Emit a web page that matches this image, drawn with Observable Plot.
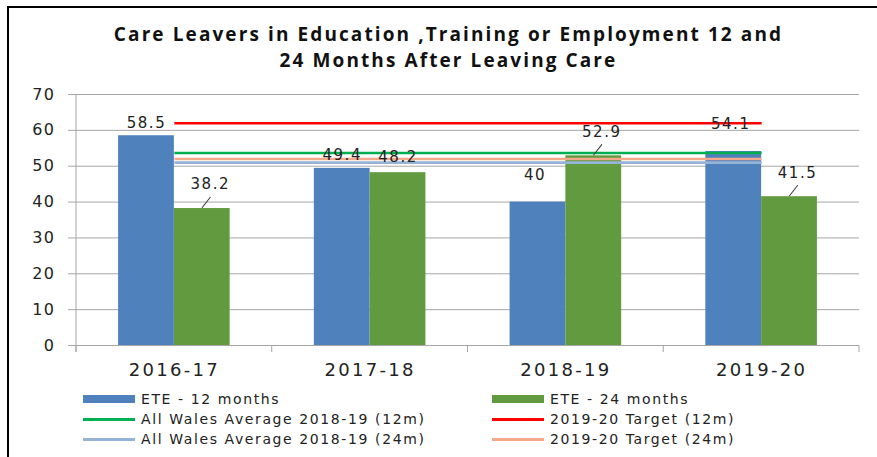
<!DOCTYPE html>
<html>
<head>
<meta charset="utf-8">
<script src="https://cdn.jsdelivr.net/npm/d3@7"></script>
<script src="https://cdn.jsdelivr.net/npm/@observablehq/plot@0.6"></script>
<style>
  html, body { margin: 0; padding: 0; background: #fff; }
  body { width: 877px; height: 457px; overflow: hidden; position: relative; font-family: "DejaVu Sans", sans-serif; }
  #frame { position: absolute; left: 7px; top: 6px; width: 900px; height: 480px; border-left: 2px solid #000; border-top: 2px solid #000; }
  .title { position: absolute; left: 10px; width: 877px; height: 26px; text-align: center; font-family: "Open Sans", sans-serif; font-weight: bold; font-size: 19px; line-height: 26px; letter-spacing: 2.1px; color: #111; white-space: nowrap; }
  #chart { position: absolute; top: 80px; left: 0; }
  #legend { position: absolute; top: 389px; left: 0; width: 877px; height: 62px; }
  .item { position: absolute; height: 20px; display: flex; align-items: center; font-size: 14px; letter-spacing: 1.6px; color: #222; white-space: nowrap; }
  .sw { width: 52px; margin-right: 6px; }
</style>
</head>
<body>
<div id="frame"></div>
<div class="title" style="top:21px">Care Leavers in Education ,Training or Employment 12 and</div>
<div class="title" style="top:47px">24 Months After Leaving Care</div>
<div id="chart"></div>
<div id="legend"></div>
<script>
// ---- data ----
const categories = ["2016-17", "2017-18", "2018-19", "2019-20"];
const ete12 = [58.5, 49.4, 40, 54.1];
const ete24 = [38.2, 48.2, 52.9, 41.5];
const allWalesAvg12 = 53.7;
const target12 = 62;
const allWalesAvg24 = 51;
const target24 = 52;
const yTicks = [0, 10, 20, 30, 40, 50, 60, 70];
const seriesNames = ["ETE - 12 months", "ETE - 24 months",
  "All Wales Average 2018-19 (12m)", "2019-20 Target (12m)",
  "All Wales Average 2018-19 (24m)", "2019-20 Target (24m)"];

// ---- derived tables ----
const rows12 = categories.map((cat, i) => ({cat, v: ete12[i]}));
const rows24 = categories.map((cat, i) => ({cat, v: ete24[i]}));
const flat = (v) => categories.map((cat) => ({cat, v}));

// ---- styles ----
const C = {
  blue: "#4f81bd", green: "#629b3f",
  avg12: "#00b050", tgt12: "#ff0000", avg24: "#95b3d7", tgt24: "#f4a98b",
  grid: "#a6a6a6", text: "#222"
};
const W = 877, H = 305, ML = 76, MR = 18, MT = 14, MB = 40;
const PAD = 0.43;
const step = (W - ML - MR) / categories.length;
const bw = step * (1 - PAD);
const q = bw / 4;

const leaderShape = {draw(context, l) { context.moveTo(0, 0); context.lineTo(0, -l); }};
const isLeader = (d) => d.v === 38.2 || d.v === 52.9 || d.v === 41.5;
const blueLow = (d) => d.v === 58.5 || d.v === 49.4;

const chart = Plot.plot({
  width: W, height: H,
  marginLeft: ML, marginRight: MR, marginTop: MT, marginBottom: MB,
  style: {fontFamily: "DejaVu Sans", color: C.text, background: "transparent", overflow: "visible", letterSpacing: "1.5px"},
  x: {domain: categories, paddingInner: PAD, paddingOuter: PAD / 2, round: false, label: null},
  y: {domain: [0, 70], label: null},
  marks: [
    Plot.gridY(yTicks, {stroke: C.grid, strokeOpacity: 1}),
    Plot.axisY(yTicks, {tickSize: 8, tickPadding: 13, stroke: C.grid, fontSize: 16, fill: C.text, label: null}),
    Plot.axisX({tickSize: 0, tickPadding: 18, fontSize: 18, fill: C.text, label: null}),
    Plot.barY(rows12, {x: "cat", y: "v", fill: C.blue, insetRight: bw / 2}),
    Plot.barY(rows24, {x: "cat", y: "v", fill: C.green, insetLeft: bw / 2}),
    Plot.lineY(flat(allWalesAvg12), {x: "cat", y: "v", stroke: C.avg12, strokeWidth: 2.6, strokeLinecap: "butt"}),
    Plot.lineY(flat(target12), {x: "cat", y: "v", stroke: C.tgt12, strokeWidth: 2.6, strokeLinecap: "butt"}),
    Plot.lineY(flat(allWalesAvg24), {x: "cat", y: "v", stroke: C.avg24, strokeWidth: 2.6, strokeLinecap: "butt"}),
    Plot.lineY(flat(target24), {x: "cat", y: "v", stroke: C.tgt24, strokeWidth: 2.6, strokeLinecap: "butt"}),
    // data labels
    Plot.text(rows12.filter(blueLow), {x: "cat", y: "v", text: (d) => String(d.v), dx: -q, dy: -13, fontSize: 15, fill: C.text}),
    Plot.text(rows12.filter((d) => !blueLow(d)), {x: "cat", y: "v", text: (d) => String(d.v), dx: -q - 3, dy: -27, fontSize: 15, fill: C.text}),
    Plot.text(rows24.filter((d) => !isLeader(d)), {x: "cat", y: "v", text: (d) => String(d.v), dx: q, dy: -15, fontSize: 15, fill: C.text}),
    Plot.text(rows24.filter(isLeader), {x: "cat", y: "v", text: (d) => String(d.v), dx: q + 8, dy: -24, fontSize: 15, fill: C.text}),
    Plot.vector(rows24.filter(isLeader), {x: "cat", y: "v", length: 13, rotate: 38, anchor: "start", shape: leaderShape, dx: q, dy: -1, stroke: "#333", strokeWidth: 1})
  ]
});
document.getElementById("chart").appendChild(chart);
d3.select(chart).selectAll('g[aria-label="x-axis tick label"]').attr("letter-spacing", "2.3px");

// category boundary tick marks on the x axis, from Plot's band scale
const sx = chart.scale("x");
const sy = chart.scale("y");
const bounds = categories.map((c) => sx.apply(c) - sx.step * sx.paddingInner / 2);
bounds.push(sx.apply(categories[categories.length - 1]) + sx.bandwidth + sx.step * sx.paddingInner / 2);
const y0 = sy.apply(0);
d3.select(chart).append("g").attr("aria-label", "x-axis boundary ticks")
  .selectAll("line").data(bounds).join("line")
  .attr("x1", (d) => d).attr("x2", (d) => d)
  .attr("y1", y0).attr("y2", y0 + 7)
  .attr("stroke", C.grid);
d3.select(chart).append("line")
  .attr("x1", ML).attr("x2", ML).attr("y1", sy.apply(70)).attr("y2", y0 + 7)
  .attr("stroke", C.grid);

// legend
const legendItems = [
  {name: seriesNames[0], color: C.blue, kind: "bar", left: 83, top: 0},
  {name: seriesNames[1], color: C.green, kind: "bar", left: 492, top: 0},
  {name: seriesNames[2], color: C.avg12, kind: "line", left: 83, top: 20},
  {name: seriesNames[3], color: C.tgt12, kind: "line", left: 492, top: 20},
  {name: seriesNames[4], color: C.avg24, kind: "line", left: 83, top: 40},
  {name: seriesNames[5], color: C.tgt24, kind: "line", left: 492, top: 40}
];
const legend = document.getElementById("legend");
for (const it of legendItems) {
  const div = document.createElement("div");
  div.className = "item";
  div.style.left = it.left + "px";
  div.style.top = it.top + "px";
  const sw = document.createElement("span");
  sw.className = "sw";
  sw.style.height = it.kind === "bar" ? "8px" : "3px";
  sw.style.background = it.color;
  const tx = document.createElement("span");
  tx.textContent = it.name;
  div.appendChild(sw);
  div.appendChild(tx);
  legend.appendChild(div);
}
</script>
</body>
</html>
